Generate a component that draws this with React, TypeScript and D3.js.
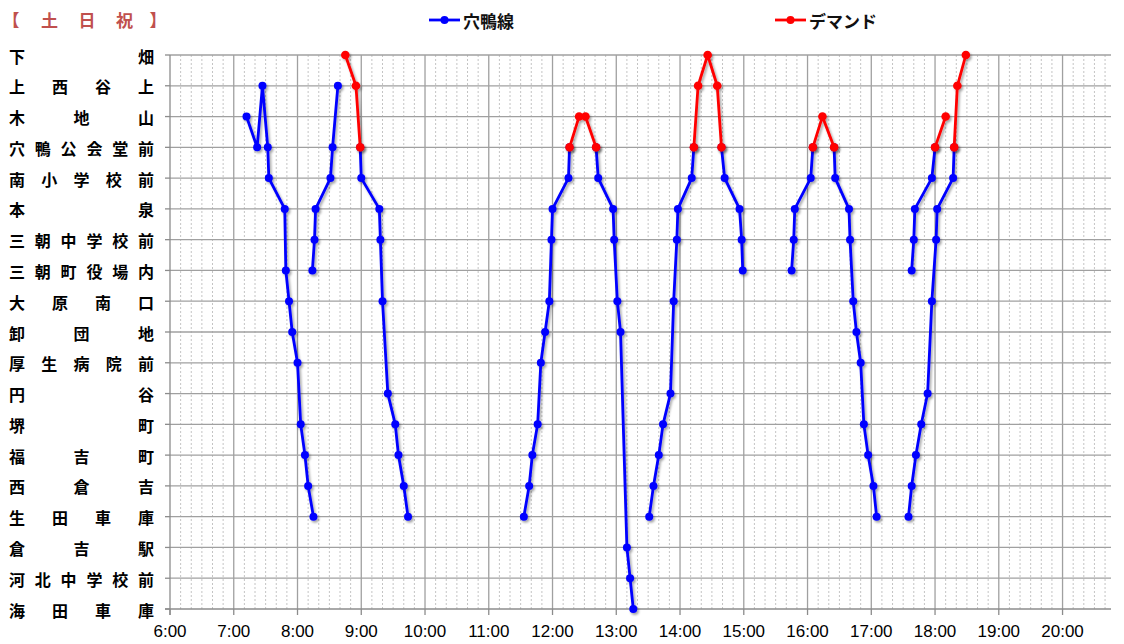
import React from "react";
import * as d3 from "d3";

// ---------- data ----------
const stops = [
  "下畑", "上西谷上", "木地山", "穴鴨公会堂前", "南小学校前", "本泉", "三朝中学校前",
  "三朝町役場内", "大原南口", "卸団地", "厚生病院前", "円谷", "堺町", "福吉町",
  "西倉吉", "生田車庫", "倉吉駅", "河北中学校前", "海田車庫",
];
const hourTicks = [
  "6:00", "7:00", "8:00", "9:00", "10:00", "11:00", "12:00", "13:00",
  "14:00", "15:00", "16:00", "17:00", "18:00", "19:00", "20:00",
];
const titleChars = ["【", "土", "日", "祝", "】"];
const legendItems = [
  { name: "穴鴨線", color: "#0000FF" },
  { name: "デマンド", color: "#FF0000" },
];

type Pt = [number, string]; // [stop index, time]

const anamo1: Pt[] = [[2, "7:12"], [3, "7:22"], [1, "7:27"], [3, "7:32"], [4, "7:33"], [5, "7:48"], [7, "7:49"], [8, "7:52"], [9, "7:55"], [10, "8:00"], [12, "8:03"], [13, "8:07"], [14, "8:10"], [15, "8:15"]];
const anamo2: Pt[] = [[7, "8:14"], [6, "8:16"], [5, "8:17"], [4, "8:31"], [3, "8:33"], [1, "8:38"]];
const anamo3: Pt[] = [[3, "8:59"], [4, "9:00"], [5, "9:17"], [6, "9:18"], [8, "9:20"], [11, "9:25"], [12, "9:32"], [13, "9:35"], [14, "9:40"], [15, "9:44"]];
const anamo4: Pt[] = [[15, "11:33"], [14, "11:38"], [13, "11:41"], [12, "11:46"], [10, "11:49"], [9, "11:53"], [8, "11:57"], [6, "11:59"], [5, "12:00"], [4, "12:15"], [3, "12:16"]];
const anamo5: Pt[] = [[3, "12:41"], [4, "12:43"], [5, "12:57"], [6, "12:58"], [8, "13:01"], [9, "13:04"], [16, "13:10"], [17, "13:13"], [18, "13:16"]];
const anamo6: Pt[] = [[15, "13:31"], [14, "13:35"], [13, "13:40"], [12, "13:44"], [11, "13:51"], [8, "13:54"], [6, "13:57"], [5, "13:58"], [4, "14:11"], [3, "14:13"]];
const anamo7: Pt[] = [[3, "14:39"], [4, "14:42"], [5, "14:56"], [6, "14:58"], [7, "14:59"]];
const anamo8: Pt[] = [[7, "15:45"], [6, "15:47"], [5, "15:48"], [4, "16:03"], [3, "16:05"]];
const anamo9: Pt[] = [[3, "16:25"], [4, "16:26"], [5, "16:39"], [6, "16:40"], [8, "16:43"], [9, "16:46"], [10, "16:50"], [12, "16:53"], [13, "16:57"], [14, "17:02"], [15, "17:05"]];
const anamo10: Pt[] = [[7, "17:38"], [6, "17:40"], [5, "17:41"], [4, "17:57"], [3, "18:00"]];
const anamo11: Pt[] = [[15, "17:35"], [14, "17:38"], [13, "17:42"], [12, "17:47"], [11, "17:53"], [8, "17:57"], [6, "18:01"], [5, "18:02"], [4, "18:17"], [3, "18:18"]];

const demand1: Pt[] = [[0, "8:45"], [1, "8:55"], [3, "8:59"]];
const demand2: Pt[] = [[3, "12:16"], [2, "12:25"], [2, "12:31"], [3, "12:41"]];
const demand3: Pt[] = [[3, "14:13"], [1, "14:17"], [0, "14:26"], [1, "14:35"], [3, "14:39"]];
const demand4: Pt[] = [[3, "16:05"], [2, "16:14"], [3, "16:25"]];
const demand5: Pt[] = [[3, "18:00"], [2, "18:10"]];
const demand6: Pt[] = [[3, "18:18"], [1, "18:21"], [0, "18:29"]];

const anamoTrips = [anamo1, anamo2, anamo3, anamo4, anamo5, anamo6, anamo7, anamo8, anamo9, anamo10, anamo11];
const demandTrips = [demand1, demand2, demand3, demand4, demand5, demand6];

// ---------- helpers ----------
const toHours = (s: string) => {
  const [h, m] = s.split(":").map(Number);
  return h + m / 60;
};

const W = 1124;
const H = 644;
const plotLeft = 170;
const plotRight = 1111;
const plotTop = 55;
const plotBottom = 609;

const x = d3.scaleLinear().domain([6, 20.76]).range([plotLeft, plotRight]);
const y = d3.scaleLinear().domain([0, stops.length - 1]).range([plotTop, plotBottom]);

const line = d3
  .line<Pt>()
  .x((d) => x(toHours(d[1])))
  .y((d) => y(d[0]));

const cjk = "'Noto Sans CJK JP', 'Noto Sans', sans-serif";

export default function App() {
  const hours = hourTicks.map(toHours);
  const minorTicks: number[] = [];
  for (let t = 6; t < 20.76; t += 1 / 6) {
    const r = Math.round(t * 6) / 6;
    if (Math.abs(r - Math.round(r)) > 1e-6) minorTicks.push(r);
  }

  const renderTrip = (trip: Pt[], color: string, key: string, r: number) => (
    <g key={key} filter="url(#shadow)">
      <path d={line(trip) || ""} fill="none" stroke={color} strokeWidth={2.8} strokeLinejoin="round" />
      {trip.map((d, i) => (
        <circle key={i} cx={x(toHours(d[1]))} cy={y(d[0])} r={r} fill={color} />
      ))}
    </g>
  );

  return (
    <svg width={W} height={H} style={{ position: "absolute", left: 0, top: 0, background: "#fff" }}>
      <defs>
        <filter id="shadow" x="-20%" y="-20%" width="140%" height="140%">
          <feDropShadow dx="1.6" dy="2" stdDeviation="1.3" floodColor="#000" floodOpacity="0.35" />
        </filter>
      </defs>
      <rect x={0} y={0} width={W} height={H} fill="#fff" />

      {/* title */}
      {titleChars.map((c, i) => {
        const xs = [11, 49.5, 87, 124.5, 158];
        return (
          <text key={i} x={xs[i]} y={19} textAnchor="middle" dominantBaseline="central"
            fontFamily={cjk} fontWeight={700} fontSize={17} fill="#C0504D">{c}</text>
        );
      })}

      {/* legend */}
      {legendItems.map((it, i) => {
        const lx = [429, 775][i];
        return (
          <g key={it.name}>
            <line x1={lx} x2={lx + 31} y1={20} y2={20} stroke={it.color} strokeWidth={2.8} />
            <circle cx={lx + 15.5} cy={20} r={4} fill={it.color} />
            <text x={lx + 34} y={20} dominantBaseline="central" fontFamily={cjk}
              fontWeight={700} fontSize={17} fill="#111">{it.name}</text>
          </g>
        );
      })}

      {/* minor vertical grid */}
      {minorTicks.map((t, i) => (
        <line key={"mv" + i} x1={x(t)} x2={x(t)} y1={plotTop} y2={plotBottom}
          stroke="#C4C4C4" strokeWidth={1} strokeDasharray="2,2" />
      ))}
      {/* major vertical grid */}
      {hours.slice(1).map((t, i) => (
        <line key={"v" + i} x1={x(t)} x2={x(t)} y1={plotTop} y2={plotBottom}
          stroke="#A0A0A0" strokeWidth={1.3} />
      ))}
      {/* horizontal grid */}
      {stops.slice(0, -1).map((_, i) => (
        <line key={"h" + i} x1={plotLeft} x2={plotRight} y1={y(i)} y2={y(i)}
          stroke="#A0A0A0" strokeWidth={1.3} />
      ))}

      {/* axes */}
      <line x1={plotLeft} x2={plotLeft} y1={plotTop} y2={plotBottom + 6} stroke="#8C8C8C" strokeWidth={1.3} />
      <line x1={plotLeft - 5} x2={plotRight} y1={plotBottom} y2={plotBottom} stroke="#8C8C8C" strokeWidth={1.3} />
      {stops.map((_, i) => (
        <line key={"yt" + i} x1={plotLeft - 5} x2={plotLeft} y1={y(i)} y2={y(i)} stroke="#8C8C8C" strokeWidth={1.3} />
      ))}
      {hours.map((t, i) => (
        <line key={"xt" + i} x1={x(t)} x2={x(t)} y1={plotBottom} y2={plotBottom + 6} stroke="#8C8C8C" strokeWidth={1.3} />
      ))}

      {/* x tick labels */}
      {hourTicks.map((s, i) => (
        <text key={"xl" + i} x={x(hours[i])} y={631} textAnchor="middle" dominantBaseline="central"
          fontFamily="'Liberation Sans', Arial, sans-serif" fontSize={17} fill="#000">{s}</text>
      ))}

      {/* y labels (justified characters) */}
      {stops.map((name, i) => {
        const chars = Array.from(name);
        const n = chars.length;
        return (
          <g key={"yl" + i}>
            {chars.map((c, j) => (
              <text key={j} x={n > 1 ? 17 + (j * 129) / (n - 1) : 17} y={y(i) + 0.5}
                textAnchor="middle" dominantBaseline="central" fontFamily={cjk}
                fontWeight={700} fontSize={16} fill="#000">{c}</text>
            ))}
          </g>
        );
      })}

      {/* series */}
      {anamoTrips.map((t, i) => renderTrip(t, "#0000FF", "a" + i, 4))}
      {demandTrips.map((t, i) => renderTrip(t, "#FF0000", "d" + i, 4.3))}
    </svg>
  );
}
